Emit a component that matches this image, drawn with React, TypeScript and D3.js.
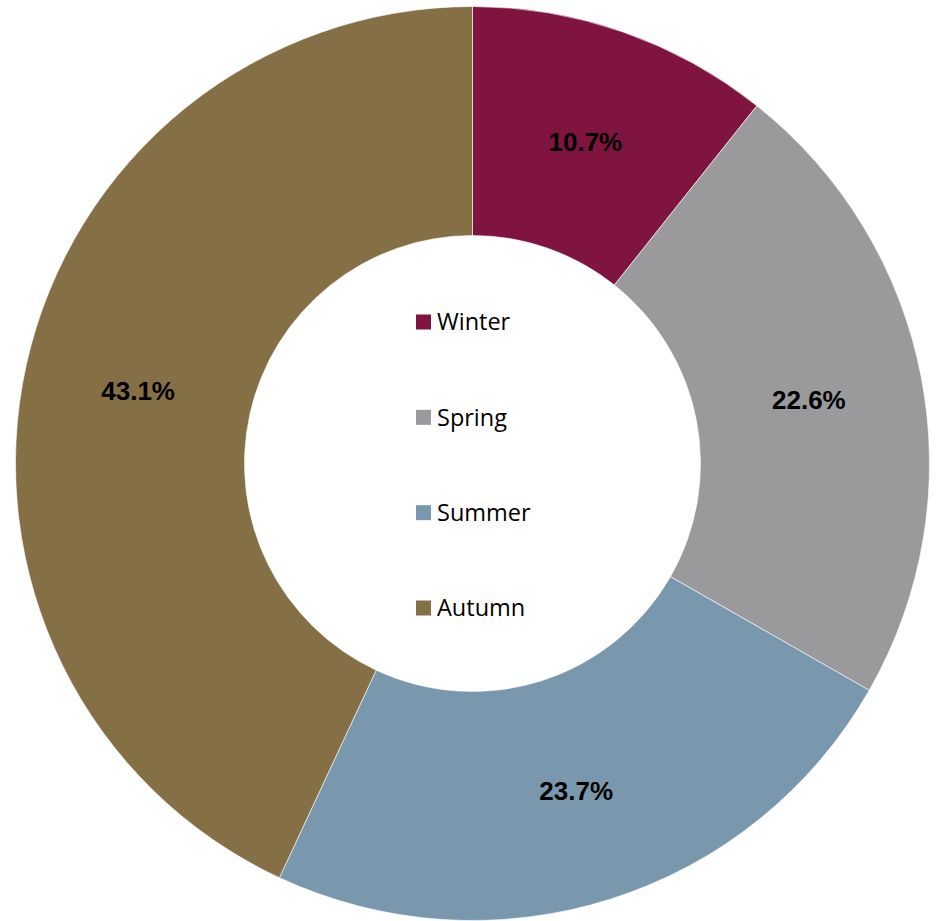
import React, { useEffect, useRef } from "react";
import * as d3 from "d3";

const seasons = ["Winter", "Spring", "Summer", "Autumn"];
const shares = [10.7, 22.6, 23.7, 43.1];
const colors = ["#7F1441", "#9A9A9C", "#7A98AD", "#857046"];

export default function App() {
  const ref = useRef<SVGSVGElement | null>(null);

  useEffect(() => {
    const width = 938;
    const height = 921;
    const cx = 472.5;
    const cy = 463.5;
    const outerRadius = 457;
    const innerRadius = 228;

    const svg = d3.select(ref.current);
    svg.selectAll("*").remove();

    const data = seasons.map((s, i) => ({ season: s, value: shares[i] }));

    const pie = d3
      .pie<any>()
      .sort(null)
      .value((d: any) => d.value);
    const arcs = pie(data);
    const arc = d3.arc<any>().innerRadius(innerRadius).outerRadius(outerRadius);

    const main = svg.append("g").attr("transform", `translate(${cx}, ${cy})`);

    main
      .selectAll("path.slice")
      .data(arcs)
      .enter()
      .append("path")
      .attr("class", "slice")
      .attr("d", arc as any)
      .attr("fill", (d, i) => colors[i])
      .attr("stroke", "#fff")
      .attr("stroke-width", 0.6);

    main
      .selectAll("text.pct")
      .data(arcs)
      .enter()
      .append("text")
      .attr("class", "pct")
      .attr("transform", (d) => `translate(${arc.centroid(d as any)})`)
      .attr("text-anchor", "middle")
      .attr("dy", "0.4em")
      .attr("font-family", "'Liberation Sans', Arial, sans-serif")
      .attr("font-weight", "700")
      .attr("font-size", "26px")
      .attr("fill", "#000")
      .text((d: any) => `${d.data.value.toFixed(1)}%`);

    // legend in the hole
    const legendY = d3
      .scalePoint<string>()
      .domain(seasons)
      .range([322, 608]);

    const legend = svg
      .append("g")
      .selectAll("g")
      .data(seasons)
      .enter()
      .append("g")
      .attr("transform", (d) => `translate(416, ${legendY(d)})`);

    legend
      .append("rect")
      .attr("x", 0)
      .attr("y", -7.5)
      .attr("width", 15)
      .attr("height", 15)
      .attr("fill", (d, i) => colors[i]);

    legend
      .append("text")
      .attr("x", 21)
      .attr("dy", "0.35em")
      .attr("font-family", "'Open Sans', 'Noto Sans', sans-serif")
      .attr("font-size", "23.5px")
      .attr("fill", "#000")
      .text((d) => d);

    svg.attr("width", width).attr("height", height);
  }, []);

  return (
    <svg
      ref={ref}
      width={938}
      height={921}
      style={{ position: "absolute", left: 0, top: 0, background: "#fff" }}
    />
  );
}
